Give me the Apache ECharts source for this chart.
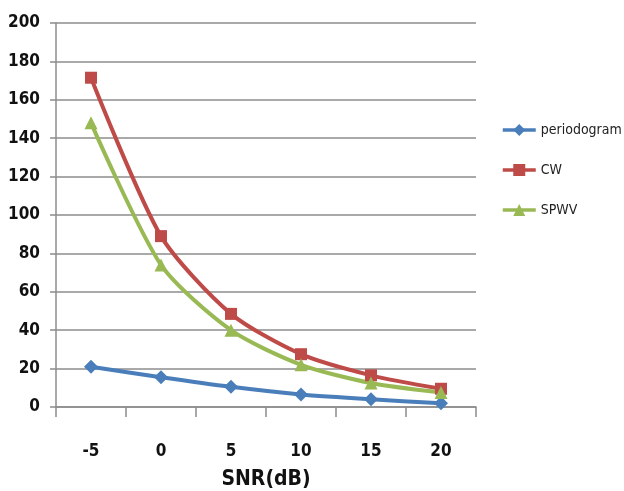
<!DOCTYPE html>
<html>
<head>
<meta charset="utf-8">
<script src="https://cdn.jsdelivr.net/npm/echarts@6/dist/echarts.min.js"></script>
<style>
  html, body { margin: 0; padding: 0; background: #fff; }
  #chart { width: 624px; height: 491px; }
</style>
</head>
<body>
<div id="chart"></div>
<script>
// SNR steps on the category axis
const snrLabels = ['-5', '0', '5', '10', '15', '20'];

// Estimation error for each method
const periodogram = [21, 15.5, 10.5, 6.5, 4, 2];
const cw = [171.5, 89, 48.5, 27.5, 16.5, 9.5];
const spwv = [148, 74, 40, 22, 12.5, 7.5];

// Value axis range and step
const yMin = 0;
const yMax = 200;
const yStep = 20;

const labelFont = '"DejaVu Sans Condensed", "Liberation Sans Narrow", "Open Sans", Arial, sans-serif';

const chart = echarts.init(document.getElementById('chart'), null, { renderer: 'canvas' });

function lineSeries(name, data, color, symbol, size) {
  return {
    name: name,
    type: 'line',
    data: data,
    smooth: 0.25,
    symbol: symbol,
    symbolSize: size,
    showSymbol: true,
    lineStyle: { color: color, width: 4 },
    itemStyle: { color: color },
    z: 3
  };
}

chart.setOption({
  animation: false,
  backgroundColor: '#ffffff',
  grid: {
    left: 56, right: 148, top: 23, bottom: 84,
    containLabel: false,
    outerBoundsMode: 'none'
  },
  legend: {
    orient: 'vertical',
    left: 496,
    top: 118,
    itemGap: 26,
    itemWidth: 33,
    itemHeight: 15,
    lineStyle: { width: 3.5 },
    textStyle: { fontFamily: labelFont, fontSize: 14, color: '#222' },
    data: ['periodogram', 'CW', 'SPWV']
  },
  xAxis: {
    type: 'category',
    data: snrLabels,
    boundaryGap: true,
    name: 'SNR(dB)',
    nameLocation: 'middle',
    nameGap: 62,
    nameTextStyle: { fontFamily: labelFont, fontSize: 21, fontWeight: 'bold', color: '#111' },
    axisLine: { lineStyle: { color: '#8c8c8c', width: 1.5 } },
    axisTick: { show: true, length: 10, lineStyle: { color: '#8c8c8c', width: 1.5 } },
    axisLabel: { margin: 36, fontFamily: labelFont, fontSize: 17, fontWeight: 'bold', color: '#111' }
  },
  yAxis: {
    type: 'value',
    min: yMin,
    max: yMax,
    interval: yStep,
    axisLine: { show: true, lineStyle: { color: '#8c8c8c', width: 1.5 } },
    axisTick: { show: true, length: 6, lineStyle: { color: '#8c8c8c', width: 1.5 } },
    splitLine: { show: true, lineStyle: { color: '#8c8c8c', width: 1.5 } },
    axisLabel: { margin: 16, fontFamily: labelFont, fontSize: 17, fontWeight: 'bold', color: '#111' }
  },
  series: [
    lineSeries('periodogram', periodogram, '#4a7ebb', 'diamond', 14),
    lineSeries('CW', cw, '#be4b48', 'rect', 12),
    lineSeries('SPWV', spwv, '#98b954', 'triangle', 13)
  ]
});
</script>
</body>
</html>
